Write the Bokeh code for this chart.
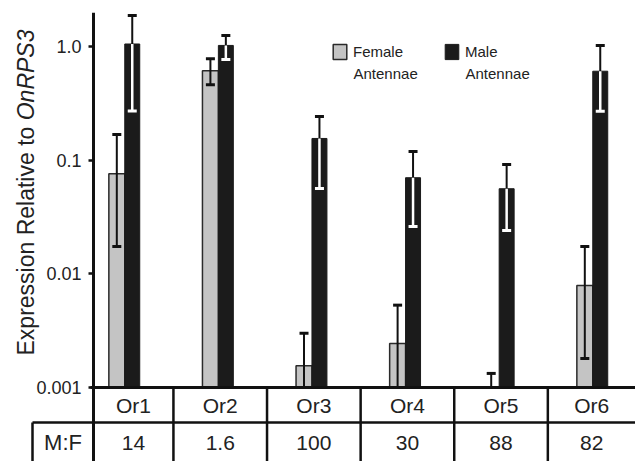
import numpy as np
from bokeh.plotting import figure
from bokeh.models import (Range1d, FixedTicker, Whisker, TeeHead, ColumnDataSource,
                          Label, Legend, LegendItem, CustomJSTickFormatter)
from bokeh.embed import file_html
from bokeh.resources import INLINE
from bokeh.core.properties import value

# ---------------- data ----------------
genes = ["Or1", "Or2", "Or3", "Or4", "Or5", "Or6"]
female = [0.076, 0.61, 0.00155, 0.00244, 0.001, 0.0079]
female_hi = [0.168, 0.78, 0.0030, 0.0053, 0.00133, 0.0174]
female_lo = [0.0174, 0.46, 0.001, 0.001, 0.001, 0.0018]
male = [1.05, 1.02, 0.155, 0.070, 0.056, 0.605]
male_hi = [1.87, 1.25, 0.242, 0.119, 0.0915, 1.02]
male_lo = [0.27, 0.767, 0.0563, 0.026, 0.024, 0.269]
ratio = ["14", "1.6", "100", "30", "88", "82"]
ratio_label = "M:F"
y_ticks = [0.001, 0.01, 0.1, 1.0]
y_tick_labels = ["0.001", "0.01", "0.1", "1.0"]
series_names = ["Female\nAntennae", "Male\nAntennae"]

# ---------------- layout ----------------
FONT = "Liberation Sans"
INK = "#111111"
TXT = "#222222"
W, H = 635, 461
AXIS_X = 93                       # px from left where the y axis sits
TOP = 12
X0 = -0.334                       # data x of the y axis
SCALE = 93.6                      # px per category unit
XL = X0 - AXIS_X / SCALE
X1 = X0 + (W - AXIS_X) / SCALE
PXD = 113.7                       # px per decade
Y_BOTTOM = 0.001                  # chart baseline
TABLE_PX = 74                     # table height below baseline (px)
Y_TOP = 10 ** (-3 + (H - TOP - TABLE_PX) / PXD)
def below(px):                    # data value px pixels below the baseline
    return Y_BOTTOM * 10 ** (-px / PXD)
Y_MIN = below(TABLE_PX)

idx = np.arange(len(genes))
fw, mw = 0.17, 0.16
src = ColumnDataSource(dict(
    fx=idx - fw / 2, mx=idx + mw / 2,
    female=female, female_hi=female_hi, female_lo=female_lo,
    male=male, male_hi=male_hi, male_lo=male_lo))

p = figure(width=W, height=H, y_axis_type="log",
           x_range=Range1d(XL, X1), y_range=Range1d(Y_MIN, Y_TOP),
           output_backend="svg", toolbar_location=None,
           min_border_left=0, min_border_right=0, min_border_top=TOP, min_border_bottom=0)
p.outline_line_color = None
p.grid.visible = False
p.xaxis.visible = False

rf = p.vbar(x="fx", top="female", bottom=Y_BOTTOM, width=fw, source=src,
            fill_color="#c4c4c4", line_color="#2a2a2a", line_width=1.5)
rm = p.vbar(x="mx", top="male", bottom=Y_BOTTOM, width=mw, source=src,
            fill_color="#1b1b1b", line_color="#1b1b1b", line_width=1)

p.add_layout(Whisker(source=src, base="fx", upper="female_hi", lower="female_lo",
                     line_color=INK, line_width=2, level="overlay",
                     upper_head=TeeHead(size=9, line_width=3, line_color=INK),
                     lower_head=TeeHead(size=9, line_width=3, line_color=INK)))
p.add_layout(Whisker(source=src, base="mx", upper="male_hi", lower="male",
                     line_color=INK, line_width=2, level="overlay",
                     upper_head=TeeHead(size=9, line_width=3, line_color=INK),
                     lower_head=None))
p.add_layout(Whisker(source=src, base="mx", upper="male", lower="male_lo",
                     line_color="white", line_width=2.5, upper_head=None, level="overlay",
                     lower_head=TeeHead(size=9, line_width=3, line_color="white")))

ya = p.yaxis[0]
ya.fixed_location = X0
ya.ticker = FixedTicker(ticks=y_ticks, minor_ticks=[])
ya.formatter = CustomJSTickFormatter(args=dict(labels=y_tick_labels, tvals=y_ticks),
                                     code="const i = tvals.indexOf(tick); return i >= 0 ? labels[i] : String(tick);")
ya.axis_line_width = 3
ya.axis_line_color = INK
ya.major_tick_line_width = 2.5
ya.major_tick_line_color = INK
ya.major_tick_out = 5
ya.major_tick_in = 0
ya.major_label_standoff = 7
ya.major_label_text_font = FONT
ya.major_label_text_font_size = "18px"
ya.major_label_text_color = TXT

# y-axis title with italic gene name
part1 = "Expression Relative to "
part2 = "OnRPS3"
fs = 23
ty = 106
p.add_layout(Label(x=25, y=ty, x_units="screen", y_units="screen", text=part1,
                   angle=np.pi / 2, text_align="left", text_baseline="middle",
                   text_font=FONT, text_font_size=f"{fs}px", text_color=TXT))
p.add_layout(Label(x=25, y=ty + 10.226 * fs, x_units="screen", y_units="screen", text=part2,
                   angle=np.pi / 2, text_align="left", text_baseline="middle",
                   text_font=FONT, text_font_size=f"{fs}px", text_font_style="italic",
                   text_color=TXT))

# legend: swatch + first line, second line below
first = [s.split("\n")[0] for s in series_names]
second = [s.split("\n")[1] for s in series_names]
legend = Legend(items=[LegendItem(label=first[0], renderers=[rf]),
                       LegendItem(label=first[1], renderers=[rm])],
                orientation="horizontal", location=(331, 400),
                padding=0, margin=0, spacing=40, label_standoff=5,
                glyph_width=17, glyph_height=19, border_line_color=None,
                background_fill_alpha=0, label_text_font=FONT,
                label_text_font_size="15px", label_text_color=TXT)
p.add_layout(legend)
for lx, s in zip([353, 465], second):
    p.add_layout(Label(x=lx, y=388, x_units="screen", y_units="screen", text=s,
                       text_align="left", text_baseline="middle", text_font=FONT,
                       text_font_size="15px", text_color=TXT))

# ---------------- table below the baseline ----------------
row1_bottom = below(35)
row1_mid = below(18)
row2_mid = below(55)
mf_left = X0 - 61 / SCALE
bounds = [X0] + [i + 0.52 for i in range(len(genes) - 1)] + [X1]
centers = [(a + b) / 2 for a, b in zip(bounds[:-1], bounds[1:])]

p.segment(x0=[X0 - 3 / SCALE], x1=[X1], y0=[Y_BOTTOM], y1=[Y_BOTTOM], line_color=INK, line_width=3)
p.segment(x0=[mf_left], x1=[X1], y0=[row1_bottom], y1=[row1_bottom], line_color=INK, line_width=2.5)
vx = bounds[1:-1]
p.segment(x0=vx, x1=vx, y0=[Y_BOTTOM] * len(vx), y1=[Y_MIN] * len(vx), line_color=INK, line_width=2.5)
p.segment(x0=[mf_left], x1=[mf_left], y0=[row1_bottom], y1=[Y_MIN], line_color=INK, line_width=2.5)

p.text(x=centers, y=[row1_mid] * len(genes), text=genes, text_align="center", text_baseline="middle",
       text_font=value(FONT), text_font_size="21px", text_color=TXT)
p.text(x=centers, y=[row2_mid] * len(genes), text=ratio, text_align="center", text_baseline="middle",
       text_font=value(FONT), text_font_size="21px", text_color=TXT)
p.text(x=[(mf_left + X0) / 2], y=[row2_mid], text=[ratio_label], text_align="center",
       text_baseline="middle", text_font=value(FONT), text_font_size="22px", text_color=TXT)

open("out.html", "w").write(file_html(p, INLINE))
